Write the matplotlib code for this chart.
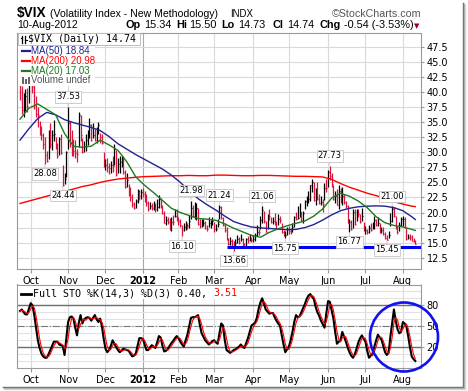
import numpy as np
import pandas as pd
import matplotlib
matplotlib.use("Agg")
import matplotlib.pyplot as plt
from matplotlib.patches import Ellipse, Rectangle
from matplotlib.lines import Line2D

plt.rcParams["font.family"] = ["DejaVu Sans"]

# ---- trading sessions on the chart (23-Sep-2011 .. 10-Aug-2012)
holidays = ["2011-11-24", "2011-12-26", "2012-01-02", "2012-01-16",
            "2012-02-20", "2012-04-06", "2012-05-28", "2012-07-04"]
dates = pd.bdate_range("2011-09-23", "2012-08-10")
dates = dates[~dates.isin(pd.to_datetime(holidays))]

prev_close = 41.35  # close of the session before the first bar

# ---- daily $VIX bars
highs = [43.9, 41.0, 39.8, 40.5, 40.6, 43.2,
         46.9, 46.6, 41.9, 39.4, 37.5, 35.1, 34.3, 33.2, 32.5, 30.2, 33.6, 34.9, 33.6, 35.3, 32.6, 31.6, 32.5, 33.1, 27.9, 26.6, 30.2,
         37.53, 35.2, 33.6, 32.2, 32.0, 30.6, 36.6, 36.1, 32.4, 31.9, 33.1, 33.6, 35.6, 34.7, 34.9, 33.8, 34.1, 35.0, 33.2, 33.0, 30.0,
         28.9, 29.0, 28.2, 28.6, 29.4, 31.3, 30.3, 29.1, 29.4, 29.3, 29.3, 27.1, 26.6, 24.8, 24.2, 23.0, 21.8, 22.2, 23.9, 23.7, 23.9,
         24.0, 23.5, 23.0, 21.9, 21.8, 21.5, 21.9, 21.6, 22.3, 22.9, 22.4, 21.2, 20.2, 19.4, 19.3, 19.1, 19.2, 19.6, 20.5, 20.6,
         19.3, 18.9, 17.9, 18.3, 18.6, 18.3, 19.6, 21.98, 21.3, 21.7, 21.6, 20.7, 18.9, 19.0, 18.9, 18.6, 17.9, 19.3, 18.7, 19.2,
         18.5, 18.1, 18.9, 21.24, 21.0, 19.2, 18.3, 17.6, 15.7, 15.9, 15.6, 15.2, 15.6, 16.2, 15.9, 16.4, 15.8, 15.0, 15.7, 16.1, 16.4, 16.0,
         16.3, 16.6, 17.9, 17.3, 19.4, 21.06, 20.2, 18.6, 19.8, 20.5, 19.2, 19.3, 20.0, 18.6, 19.8, 19.4, 18.3, 17.1, 16.9, 17.6,
         17.7, 17.5, 18.2, 19.5, 20.1, 21.0, 21.5, 20.1, 20.2, 22.0, 22.8, 23.6, 24.6, 25.6, 25.0, 24.0, 25.1, 23.0, 22.7, 22.3, 24.9, 25.5,
         27.0, 27.73, 26.5, 24.6, 23.5, 23.9, 24.5, 24.1, 24.2, 23.1, 21.9, 21.2, 18.9, 18.8, 20.6, 20.5, 20.6, 20.6, 19.8, 20.8, 18.4,
         17.8, 17.2, 18.0, 18.3, 18.4, 19.4, 18.9, 19.2, 18.2, 17.6, 17.6, 16.8, 16.2, 17.0, 20.0, 21.00, 20.9, 19.5, 17.8, 18.4, 19.2,
         19.4, 19.3, 17.4, 16.5, 16.4, 16.3, 15.7, 15.50]
lows = [38.6, 36.3, 35.9, 36.8, 36.6, 38.2,
        42.1, 39.8, 37.2, 35.9, 34.1, 32.9, 32.1, 30.5, 28.08, 28.3, 28.9, 30.7, 30.4, 31.9, 30.6, 29.0, 29.6, 29.7, 24.44, 24.8, 25.9,
        30.5, 30.9, 29.3, 29.4, 29.1, 28.3, 30.9, 31.9, 29.9, 30.0, 30.2, 31.2, 32.4, 31.9, 32.3, 31.8, 31.6, 33.0, 31.6, 31.3, 27.5,
        27.0, 26.8, 26.4, 26.6, 26.7, 27.9, 26.1, 26.6, 26.5, 27.6, 26.4, 24.1, 24.2, 22.8, 21.9, 20.9, 20.5, 20.8, 21.5, 22.1, 22.2,
        22.5, 21.8, 21.1, 20.3, 20.5, 20.4, 20.4, 20.1, 20.2, 20.7, 20.7, 19.7, 18.2, 18.0, 18.1, 17.1, 16.9, 18.0, 19.2, 18.6,
        17.9, 17.6, 16.10, 16.9, 17.1, 17.3, 17.5, 18.9, 19.2, 19.0, 18.8, 18.0, 17.4, 17.6, 17.8, 17.2, 16.9, 17.6, 17.5, 17.9,
        16.8, 16.9, 17.6, 18.9, 18.9, 17.7, 16.8, 15.5, 14.6, 14.6, 14.2, 13.66, 14.4, 15.0, 14.7, 15.3, 14.4, 14.2, 14.4, 14.9, 15.2, 15.1,
        15.1, 15.3, 16.1, 16.2, 17.3, 18.2, 18.3, 16.7, 17.2, 18.8, 18.2, 18.1, 17.9, 17.2, 18.0, 18.2, 16.6, 16.1, 15.75, 16.3,
        16.4, 16.5, 16.7, 17.6, 18.7, 18.9, 19.3, 18.6, 18.3, 20.5, 21.1, 21.5, 21.9, 23.4, 21.9, 21.3, 22.0, 21.4, 21.3, 20.1, 22.0, 23.4,
        24.2, 25.4, 24.3, 22.1, 21.6, 21.2, 20.6, 21.5, 21.3, 21.4, 20.7, 18.2, 16.77, 17.1, 17.4, 18.0, 18.6, 19.3, 18.2, 18.6, 16.9,
        16.5, 16.4, 16.6, 17.0, 17.2, 17.3, 17.7, 17.8, 16.6, 16.6, 16.3, 15.6, 15.45, 15.7, 17.7, 18.4, 19.3, 17.3, 16.5, 16.9, 17.7,
        17.8, 17.4, 15.5, 15.6, 15.4, 15.2, 15.1, 14.73]
closes = [41.3, 37.0, 38.8, 39.3, 37.6, 43.0,
          45.5, 40.8, 37.8, 36.3, 36.2, 33.0, 32.9, 31.3, 29.5, 28.6, 33.4, 31.3, 32.9, 33.0, 31.3, 29.3, 32.2, 29.9, 24.5, 25.5, 30.0,
          34.8, 31.5, 30.5, 30.2, 29.9, 29.7, 36.2, 32.8, 30.0, 31.1, 32.0, 33.5, 34.5, 32.0, 32.9, 32.0, 33.8, 34.5, 32.6, 31.5, 27.8,
          27.9, 27.5, 27.4, 27.8, 27.7, 30.6, 26.4, 28.0, 28.4, 28.9, 26.8, 24.3, 25.4, 23.0, 22.6, 21.4, 20.7, 21.9, 23.5, 22.7, 23.4,
          23.0, 22.2, 21.5, 20.6, 21.1, 20.7, 21.1, 20.5, 20.9, 22.2, 20.9, 19.9, 18.3, 18.7, 18.5, 17.2, 18.5, 18.4, 19.4, 19.2,
          18.6, 18.0, 17.1, 17.6, 18.0, 17.7, 18.6, 20.8, 19.5, 19.7, 20.7, 18.1, 17.8, 18.2, 18.3, 17.5, 17.3, 18.2, 18.4, 18.6,
          17.3, 17.3, 18.1, 20.9, 19.1, 18.0, 17.1, 15.6, 14.8, 15.3, 14.5, 14.47, 15.0, 15.6, 15.1, 15.6, 14.8, 14.3, 15.6, 15.5, 15.52, 15.5,
          15.6, 16.3, 16.8, 16.7, 18.8, 20.4, 18.6, 16.8, 19.6, 19.5, 18.5, 18.6, 18.4, 17.4, 19.0, 18.7, 16.8, 16.2, 16.3, 17.2,
          16.9, 16.8, 17.6, 19.2, 18.9, 19.1, 20.1, 18.8, 19.9, 21.9, 22.0, 22.3, 24.5, 25.1, 22.0, 22.5, 22.3, 21.5, 21.8, 21.4, 24.1, 24.06,
          26.7, 26.1, 24.7, 22.2, 22.7, 21.23, 23.6, 21.7, 22.7, 21.7, 21.1, 18.3, 18.4, 17.2, 20.1, 18.1, 20.1, 19.7, 18.5, 19.5, 17.1,
          17.11, 16.7, 17.5, 17.1, 18.0, 18.7, 18.0, 18.3, 16.74, 17.1, 16.5, 15.8, 15.5, 16.3, 18.6, 20.5, 19.34, 17.5, 16.7, 18.0, 18.9,
          19.0, 17.6, 15.6, 16.0, 15.99, 15.3, 15.28, 14.74]

# ---- moving averages, one reading every 5 sessions (plus the last one)
ma_sessions = list(range(0, 221, 5)) + [222]
ma50 = [32.0, 33.9, 35.6, 36.6, 36.2, 35.4, 34.9, 34.5, 34.1, 33.6, 32.6, 31.4, 30.5, 29.6, 28.8, 28.0,
        27.2, 26.2, 25.0, 23.6, 22.3, 21.3, 20.4, 19.4, 18.5, 18.0, 17.6, 17.45, 17.35, 17.25, 17.15, 17.2,
        17.5, 18.0, 18.75, 19.6, 20.3, 20.7, 20.95, 21.05, 21.1, 21.05, 20.8, 20.3, 19.3, 18.84]
ma200 = [21.5, 21.9, 22.3, 22.7, 23.1, 23.5, 23.9, 24.3, 24.6, 25.0, 25.3, 25.55, 25.7, 25.85, 25.95, 26.0,
         26.05, 26.1, 26.1, 26.15, 26.1, 26.1, 26.2, 26.2, 26.15, 26.1, 26.1, 26.15, 26.15, 26.1, 26.05, 26.0,
         26.0, 25.95, 25.9, 25.5, 24.8, 24.2, 23.7, 23.2, 22.8, 22.3, 21.8, 21.4, 21.05, 20.98]
ma20 = [35.5, 37.3, 38.0, 37.1, 36.2, 33.1, 31.0, 30.8, 31.0, 32.0, 31.2, 30.3, 28.4, 25.9, 24.5, 23.3,
        22.0, 20.7, 20.0, 19.5, 19.0, 18.9, 18.7, 18.1, 17.4, 16.8, 16.2, 15.9, 16.7, 17.3, 17.8, 18.2,
        18.6, 19.4, 20.6, 22.4, 23.2, 22.7, 21.9, 20.8, 19.3, 18.3, 17.85, 17.6, 17.2, 17.03]

# ---- Full Stochastic %K(14,3), one value per session
sto_k = [72, 74, 70, 67, 67, 75, 83, 80, 66, 48, 30, 19, 11, 7, 5, 5, 10, 16, 22, 28, 28, 28, 24, 23, 22, 9, 32,
         56, 63, 64, 61, 48, 37, 55, 66, 54, 60, 62, 63, 62, 58, 62, 66, 60, 56, 61, 50, 32,
         18, 13, 16, 22, 30, 25, 20, 16, 13, 15, 18, 17, 16, 15, 11, 7, 8, 11, 22, 33, 33,
         32, 24, 16, 16, 20, 23, 21, 19, 27, 36, 34, 22, 14, 15, 18, 22, 26, 29, 33, 36,
         33, 28, 24, 21, 30, 38, 50, 62, 63, 63, 64, 66, 52, 40, 35, 30, 27, 24, 26, 29,
         30, 27, 25, 40, 54, 51, 30, 16, 14, 12, 14, 16, 17, 19, 21, 24, 21, 19, 26, 33, 42, 51,
         53, 55, 62, 75, 84, 90, 82, 74, 71, 68, 69, 69, 63, 58, 54, 51, 37, 24, 13, 17,
         21, 30, 42, 56, 66, 63, 64, 70, 76, 82, 89, 94, 96, 92, 89, 78, 70, 65, 58, 53, 48, 68,
         86, 85, 73, 61, 42, 25, 28, 30, 42, 35, 28, 20, 13, 8, 5, 10, 18, 27, 33, 37, 32,
         28, 15, 5, 8, 11, 21, 30, 38, 34, 31, 22, 13, 9, 12, 35, 55, 74, 58, 46, 40, 42,
         56, 54, 50, 36, 20, 7, 3.1, 0.4]

# ---- price labels shown on the chart: (session, "high"/"low")
label_sessions = [27, 14, 24, 96, 91, 112, 120, 136, 149, 174, 185, 209, 206]
label_sides = ["high", "low", "low", "high", "low", "high", "low", "high", "low", "high", "low", "high", "low"]

support_level = 14.3
support_from = 116

W, H = 468, 391
fig = plt.figure(figsize=(W / 100, H / 100), dpi=100)
fig.patch.set_facecolor("white")


def fx(px):
    return px / W


def fy(py):
    return 1 - py / H


ax = fig.add_axes([fx(17), fy(269), (421 - 17) / W, (269 - 33) / H])
ax2 = fig.add_axes([fx(17), fy(368), (421 - 17) / W, (368 - 284.5) / H])

n = len(closes)
x = np.arange(n)
month_start = [i for i in range(1, n) if dates[i].month != dates[i - 1].month]
month_lbl = [str(dates[i].year) if dates[i].month == 1 else dates[i].strftime("%b") for i in month_start]

grid_c = "#d9d9d9"
spine_c = "#9a9a9a"
red_bar = "#dc143c"

for a in (ax, ax2):
    a.set_xlim(-1.7, 225.2)
    a.set_xticks(month_start)
    a.set_xticklabels(month_lbl)
    a.tick_params(axis="x", labelsize=7, length=3, color=spine_c, pad=2)
    a.yaxis.tick_right()
    a.tick_params(axis="y", labelsize=7, length=2.5, color=spine_c, pad=1.5)
    for s in a.spines.values():
        s.set_color(spine_c)
        s.set_linewidth(0.8)
    a.spines["right"].set_linestyle((0, (1, 1)))
    for lab in a.get_xticklabels():
        if lab.get_text().isdigit():
            lab.set_fontweight("bold")
    for i, m in enumerate(month_start):
        c = "#a8a8a8" if dates[m].month == 1 else grid_c
        a.axvline(m, color=c, lw=0.8, zorder=0)

# ---- price panel
ax.set_ylim(10.63, 49.77)
ax.set_yticks(np.arange(12.5, 48, 2.5))
ax.set_yticklabels([f"{v:.1f}" for v in np.arange(12.5, 48, 2.5)])
for v in np.arange(12.5, 48, 2.5):
    ax.axhline(v, color=grid_c, lw=0.8, zorder=0)

prev = np.r_[prev_close, closes[:-1]]
colors = np.where(np.array(closes) >= prev, "black", red_bar)
ax.vlines(x, lows, highs, colors=colors, lw=0.9, zorder=3)
ax.hlines(closes, x, x + 0.55, colors=colors, lw=0.9, zorder=3)

ax.plot(ma_sessions, ma200, color="#ff0000", lw=1.0, zorder=4)
ax.plot(ma_sessions, ma50, color="#22228f", lw=1.0, zorder=4)
ax.plot(ma_sessions, ma20, color="#1e7a1e", lw=1.0, zorder=4)

ax.hlines(support_level, support_from, 225.2, color="#0000f0", lw=2.2, zorder=5)

for d, side in zip(label_sessions, label_sides):
    yv = highs[d] if side == "high" else lows[d]
    off = 7.2 if side == "high" else -7.2
    ax.annotate(f"{yv:.2f}", xy=(d, yv), xytext=(0, off), textcoords="offset points",
                ha="center", va="center", fontsize=6, zorder=6,
                bbox=dict(boxstyle="square,pad=0.15", fc="white", ec="#c4c4c4", lw=0.6),
                arrowprops=dict(arrowstyle="-", color="#c4c4c4", lw=0.6, shrinkA=0, shrinkB=0.5))

# ---- stochastic panel
ax2.set_ylim(-9.6, 109.7)
ax2.set_yticks([20, 50, 80])
for v in range(0, 101, 10):
    ax2.axhline(v, color="#e2e2e2", lw=0.8, zorder=0)
ax2.axhline(80, color="#6e6e6e", lw=1.0, zorder=1)
ax2.axhline(20, color="#6e6e6e", lw=1.0, zorder=1)
ax2.axhline(50, color="#7a7a7a", lw=0.8, ls="-.", zorder=1)

sto_d = pd.Series(sto_k).rolling(3, min_periods=1).mean()
ax2.plot(x, sto_k, color="black", lw=1.5, zorder=3)
ax2.plot(x, sto_d, color="#ff0000", lw=0.8, zorder=4)

# ---- legends inside the panels
fig.patches.append(Rectangle((fx(17.5), fy(86)), (95 - 17.5) / W, (86 - 44.5) / H,
                             transform=fig.transFigure, fc="white", ec="none", zorder=2))
fig.patches.append(Rectangle((fx(17.5), fy(44.5)), (140 - 17.5) / W, (44.5 - 33) / H,
                             transform=fig.transFigure, fc="white", ec="#bdbdbd", lw=0.7, zorder=2))
fig.text(fx(28.5), fy(41.5), "$VIX (Daily) 14.74", family="DejaVu Sans Mono", fontsize=7.2, zorder=3)
for px in (22.3, 25.3):
    fig.lines.append(Line2D([fx(px), fx(px)], [fy(42.5), fy(35.5)], transform=fig.transFigure,
                            color="black", lw=0.9, zorder=3))
fig.lines.append(Line2D([fx(21.3), fx(22.3)], [fy(37.5), fy(37.5)], transform=fig.transFigure, color="black", lw=0.8, zorder=3))
fig.lines.append(Line2D([fx(25.3), fx(26.5)], [fy(40), fy(40)], transform=fig.transFigure, color="black", lw=0.8, zorder=3))

rows = [("MA(50) 18.84", "#22228f", 53.7), ("MA(200) 20.98", "#ff0000", 63.8), ("MA(20) 17.03", "#1e7a1e", 73.6)]
for txt, c, base in rows:
    fig.lines.append(Line2D([fx(21.5), fx(30)], [fy(base - 2.8), fy(base - 2.8)], transform=fig.transFigure,
                            color=c, lw=1.6, zorder=3))
    fig.text(fx(30.8), fy(base), txt, family="Liberation Sans", fontsize=7, color=c, zorder=3)
for px, top in ((22.0, 77.5), (24.8, 78.5), (27.6, 76.5)):
    fig.patches.append(Rectangle((fx(px), fy(83.5)), 2 / W, (83.5 - top) / H, transform=fig.transFigure,
                                 fc="#666666", ec="none", zorder=3))
fig.text(fx(30.8), fy(83.4), "Volume undef", family="Liberation Sans", fontsize=7, color="#555555", zorder=3)

fig.patches.append(Rectangle((fx(18), fy(299)), (240 - 18) / W, (299 - 285.5) / H,
                             transform=fig.transFigure, fc="white", ec="none", zorder=2))
fig.lines.append(Line2D([fx(21), fx(31)], [fy(293.5), fy(293.5)], transform=fig.transFigure, color="black", lw=2, zorder=3))
t = fig.text(fx(33.3), fy(296.5), "Full STO %K(14,3) %D(3) 0.40, ", family="DejaVu Sans Mono", fontsize=7.2, zorder=3)
fig.text(fx(33.3 + 30 * 6.0), fy(296.5), "3.51", family="DejaVu Sans Mono", fontsize=7.2, color="#ff0000", zorder=3)

# ---- blue circle around the latest stochastic swing
fig.patches.append(Ellipse((fx(404), fy(337)), 68 / W, 69 / H, transform=fig.transFigure,
                           fill=False, ec="#1010f0", lw=1.9, zorder=5))

# ---- header
fig.text(fx(17), fy(16.7), "$VIX", family="Liberation Sans", fontsize=9.8, fontweight="bold")
fig.text(fx(50), fy(16.7), "(Volatility Index - New Methodology)", family="Liberation Sans", fontsize=7.6)
fig.text(fx(230), fy(16.7), "INDX", family="Liberation Sans", fontsize=6.9)
fig.text(fx(421), fy(16.7), "\u00a9StockCharts.com", family="Liberation Sans", fontsize=7.7,
         color="#555555", ha="right")
fig.text(fx(17.5), fy(28.3), "10-Aug-2012", family="Liberation Sans", fontsize=7.6)
parts = [(126, "Op", True), (144, "15.34", False), (176.7, "Hi", True), (188.7, "15.50", False),
         (221.7, "Lo", True), (238.3, "14.73", False), (272.7, "Cl", True), (287.3, "14.74", False),
         (320, "Chg", True), (344, "-0.54 (-3.53%)", False)]
for px, txt, bold in parts:
    fig.text(fx(px), fy(28.3), txt, family="Liberation Sans", fontsize=7.8,
             fontweight="bold" if bold else "normal")
fig.text(fx(417), fy(28.3), "\u25bc", fontsize=5, color="#990022", ha="center")

# ---- frame with shadow
for off, c in ((0, "#6a6a6a"), (1, "#a8a8a8"), (2, "#d4d4d4")):
    fig.lines.append(Line2D([fx(462.5 + off), fx(462.5 + off)], [fy(3 + off), fy(386.5 + off)],
                            transform=fig.transFigure, color=c, lw=1))
    fig.lines.append(Line2D([fx(3 + off), fx(462.5 + off)], [fy(386.5 + off), fy(386.5 + off)],
                            transform=fig.transFigure, color=c, lw=1))

fig.savefig("out.png", dpi=100, facecolor="white")
